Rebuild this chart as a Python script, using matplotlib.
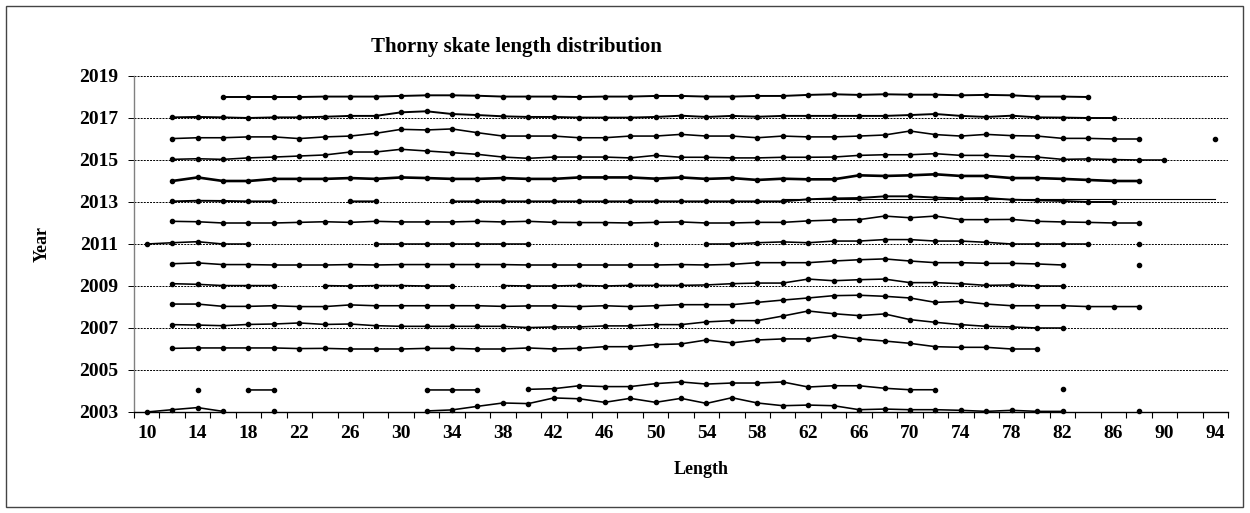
import numpy as np
import matplotlib
matplotlib.use("Agg")
import matplotlib.pyplot as plt
from matplotlib.patches import Rectangle

nan = np.nan

# Length classes (category axis) and label positions
length_min, length_max = 10, 94
label_lengths = list(range(10, 95, 4))
year_ticks = list(range(2003, 2020, 2))

# Each series: first length class, then offsets above the year baseline (in years)
start_2018 = 16
y2018 = [0, 0, 0, 0, .02, .02, .02, .05, .08, .08, .06, .02, .02, .02, 0, .02, .02, .05, .05, .02,
         .02, .05, .05, .10, .13, .10, .13, .11, .11, .08, .10, .08, .02, .02, 0]
start_2017 = 12
y2017 = [.03, .05, .03, 0, .03, .03, .06, .10, .10, .27, .32, .19, .14, .08, .05, .05, .02, .02, .02,
         .05, .11, .05, .10, .06, .10, .10, .10, .10, .10, .14, .19, .10, .05, .11, .03, .02, 0, 0]
start_2016 = 12
y2016 = [.02, .06, .06, .10, .10, .02, .10, .14, .27, .46, .43, .48, .30, .14, .14, .14, .06, .06, .14,
         .14, .22, .14, .14, .06, .14, .10, .10, .14, .19, .38, .21, .14, .22, .16, .14, .03, .03, 0, 0,
         nan, nan, 0]
start_2015 = 12
y2015 = [.03, .06, .03, .10, .14, .19, .24, .38, .38, .51, .43, .35, .27, .14, .08, .14, .14, .14, .10,
         .22, .13, .13, .10, .10, .13, .13, .14, .22, .25, .25, .30, .22, .22, .17, .14, .03, .05, .02, 0, 0]
start_2014 = 12
y2014 = [0, .17, 0, 0, .10, .10, .10, .14, .10, .17, .14, .10, .10, .14, .10, .10, .17, .17, .17, .11,
         .17, .10, .14, .05, .11, .08, .08, .27, .24, .27, .32, .24, .24, .14, .14, .10, .05, 0, 0]
start_2013 = 12
y2013 = [.03, .06, .05, .03, .03, nan, nan, .03, .03, nan, nan, .03, .03, .03, .03, .03, .03, .03, .03,
         .03, .03, .03, .03, .03, .03, .13, .17, .19, .27, .27, .21, .17, .19, .11, .08, .05, 0, 0]
# thin horizontal line in the 2013 row
line2013_x = [60, 94]
line2013_y = [.12, .12]
start_2012 = 12
y2012 = [.08, .06, 0, 0, 0, .03, .06, .03, .08, .05, .05, .05, .08, .05, .08, .03, .02, .02, 0, .03,
         .05, 0, 0, .03, .03, .10, .14, .16, .33, .25, .33, .16, .16, .17, .08, .05, .03, 0, 0]
start_2011 = 10
y2011 = [0, .06, .11, 0, 0, nan, nan, nan, nan, 0, 0, 0, 0, 0, 0, 0, nan, nan, nan, nan, 0, nan, 0, 0,
         .06, .10, .06, .14, .14, .21, .21, .14, .14, .08, 0, 0, 0, 0, nan, 0]
start_2010 = 12
y2010 = [.06, .10, .02, .02, 0, 0, 0, .02, 0, .02, .02, .02, .02, .02, 0, 0, 0, 0, 0, 0, .02, 0, .03,
         .11, .11, .11, .19, .25, .29, .19, .11, .11, .08, .08, .05, 0, nan, nan, 0]
start_2009 = 12
y2009 = [.11, .08, .02, .02, .02, nan, .02, 0, .02, .02, 0, 0, nan, .02, 0, 0, .03, 0, .03, .03, .03,
         .05, .11, .14, .14, .33, .25, .30, .33, .16, .16, .11, .03, .05, 0, 0]
start_2008 = 12
y2008 = [.14, .14, .03, .03, .06, .02, .02, .10, .06, .06, .06, .06, .06, .03, .05, .05, .02, .06, .02,
         .06, .11, .11, .11, .22, .33, .43, .54, .56, .51, .43, .22, .27, .14, .06, .06, .06, .02, .02, .02]
start_2007 = 12
y2007 = [.16, .14, .11, .17, .19, .24, .17, .19, .11, .08, .08, .08, .08, .08, .02, .05, .05, .10, .10,
         .16, .16, .29, .35, .35, .57, .81, .68, .59, .67, .40, .27, .16, .08, .05, 0, 0]
start_2006 = 12
y2006 = [.03, .05, .05, .05, .05, .02, .03, 0, 0, 0, .03, .03, 0, 0, .05, 0, .03, .11, .11, .21, .24,
         .43, .29, .43, .48, .48, .63, .48, .38, .27, .11, .08, .08, 0, 0]
start_2004 = 14
y2004 = [.05, nan, .05, .05, nan, nan, nan, nan, nan, .05, .05, .05, nan, .08, .11, .25, .21, .21, .35,
         .43, .33, .38, .38, .43, .19, .25, .25, .13, .06, .06, nan, nan, nan, nan, .08]
start_2003 = 10
y2003 = [0, .11, .21, .03, nan, .03, nan, nan, nan, nan, nan, .05, .10, .27, .43, .40, .67, .63, .46,
         .65, .46, .65, .41, .68, .43, .30, .33, .30, .11, .14, .11, .11, .08, .03, .08, .03, .03, nan,
         nan, .03]

series = [
    (2018, start_2018, y2018), (2017, start_2017, y2017), (2016, start_2016, y2016),
    (2015, start_2015, y2015), (2014, start_2014, y2014), (2013, start_2013, y2013),
    (2012, start_2012, y2012), (2011, start_2011, y2011), (2010, start_2010, y2010),
    (2009, start_2009, y2009), (2008, start_2008, y2008), (2007, start_2007, y2007),
    (2006, start_2006, y2006), (2004, start_2004, y2004), (2003, start_2003, y2003),
]
line_widths = {2018: 1.4, 2017: 1.4, 2014: 1.9, 2013: 1.4}

plt.rcParams['font.family'] = ['Liberation Serif', 'DejaVu Serif']
plt.rcParams['font.weight'] = 'bold'

W, H = 1250, 513
fig = plt.figure(figsize=(W / 100, H / 100), dpi=100)
ax = fig.add_axes([134 / W, 1 - 412 / H, (1228 - 134) / W, (412 - 76) / H])

for year, start, vals in series:
    x = start + 2 * np.arange(len(vals))
    y = year + np.array(vals, dtype=float)
    ax.plot(x, y, color='black', lw=line_widths.get(year, 1.15), marker='o', ms=3.0,
            solid_joinstyle='round', zorder=3, clip_on=False)
ax.plot(line2013_x, 2013 + np.array(line2013_y), color='black', lw=0.8, zorder=3)

ax.set_xlim(length_min - 1, length_max + 1)
ax.set_ylim(2003, 2019)

ax.set_yticks(year_ticks)
ax.set_yticklabels([str(y) for y in year_ticks], fontsize=14, fontweight='bold')
ax.yaxis.grid(True, linestyle=(0, (2, 1.2)), color='black', lw=0.7)
ax.set_axisbelow(True)

ax.set_xticks(label_lengths)
ax.set_xticklabels([str(v) for v in label_lengths], fontsize=14, fontweight='bold')
ax.set_xticks(np.arange(length_min - 1, length_max + 2, 2), minor=True)
ax.tick_params(axis='x', which='major', length=0, pad=9)
ax.tick_params(axis='x', which='minor', length=4, width=0.8, color='black', direction='out')
ax.tick_params(axis='y', which='major', length=4.5, width=0.7, color='black', pad=7)

for s in ['top', 'right']:
    ax.spines[s].set_visible(False)
ax.spines['left'].set_color('#808080')
ax.spines['left'].set_linewidth(1.0)
ax.spines['bottom'].set_color('black')
ax.spines['bottom'].set_linewidth(1.0)

fig.text(516 / W, 1 - 47 / H, 'Thorny skate length distribution', ha='center', va='center',
         fontsize=15, fontweight='bold')
fig.text(42 / W, 1 - 244 / H, 'Year', ha='center', va='center', rotation=90,
         fontsize=13, fontweight='bold')
fig.text(701 / W, 1 - 470 / H, 'Length', ha='center', va='center',
         fontsize=13, fontweight='bold')

fig.add_artist(Rectangle((6 / W, 1 - 507 / H), (1243 - 6) / W, (507 - 6) / H,
                         transform=fig.transFigure, fill=False, ec='#444444', lw=1.0))

fig.savefig('out.png', dpi=100)
